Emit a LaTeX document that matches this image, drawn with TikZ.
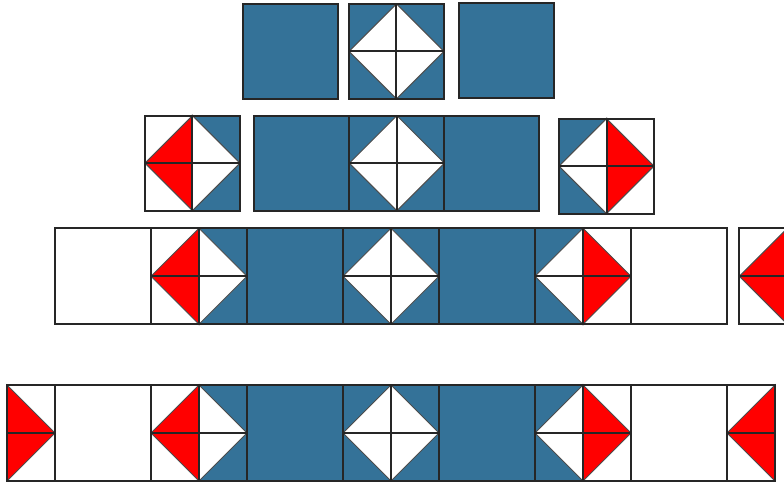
\documentclass[tikz,border=0pt]{standalone}
\usepackage{tikz}

\definecolor{quiltblue}{RGB}{52,114,152}
\definecolor{quiltred}{RGB}{255,0,0}
\tikzset{
 edge/.style={draw=black!85,line width=0.6pt},
 seam/.style={draw=black!70,line width=0.3pt}
}
% one unit square per block
\newcommand{\sqB}{\filldraw[fill=quiltblue,edge] (0,0) rectangle (1,1);}
\newcommand{\sqW}{\filldraw[fill=white,edge] (0,0) rectangle (1,1);}
\newcommand{\sqD}{%
 \fill[quiltblue] (0,0) rectangle (1,1);
 \filldraw[fill=white,seam] (0.5,0)--(1,0.5)--(0.5,1)--(0,0.5)--cycle;
 \draw[edge] (0,0.5)--(1,0.5) (0.5,0)--(0.5,1);
 \draw[edge] (0,0) rectangle (1,1);}
\newcommand{\sqL}{%
 \fill[white] (0,0) rectangle (0.5,1);
 \fill[quiltblue] (0.5,0) rectangle (1,1);
 \filldraw[fill=quiltred,seam] (0.5,0)--(0,0.5)--(0.5,1)--cycle;
 \filldraw[fill=white,seam] (0.5,0)--(1,0.5)--(0.5,1)--cycle;
 \draw[edge] (0,0.5)--(1,0.5) (0.5,0)--(0.5,1);
 \draw[edge] (0,0) rectangle (1,1);}
\newcommand{\sqR}{%
 \fill[quiltblue] (0,0) rectangle (0.5,1);
 \fill[white] (0.5,0) rectangle (1,1);
 \filldraw[fill=white,seam] (0.5,0)--(0,0.5)--(0.5,1)--cycle;
 \filldraw[fill=quiltred,seam] (0.5,0)--(1,0.5)--(0.5,1)--cycle;
 \draw[edge] (0,0.5)--(1,0.5) (0.5,0)--(0.5,1);
 \draw[edge] (0,0) rectangle (1,1);}

\begin{document}
\begin{tikzpicture}
 \useasboundingbox (0,0) rectangle (8.1667,5.0208);
 \clip (0,0) rectangle (8.1667,5.0208);
 % top row
 \begin{scope}[shift={(2.534,3.99)},scale=0.99] \sqB \end{scope}
 \begin{scope}[shift={(3.635,3.99)},scale=0.99] \sqD \end{scope}
 \begin{scope}[shift={(4.784,3.995)},scale=0.99] \sqB \end{scope}
 % second row
 \begin{scope}[shift={(1.510,2.826)},scale=0.99] \sqL \end{scope}
 \foreach \k [count=\i from 0] in {B,D,B}{
  \begin{scope}[shift={(2.649+0.99*\i,2.826)},scale=0.99] \csname sq\k\endcsname \end{scope}}
 \begin{scope}[shift={(5.823,2.795)},scale=0.99] \sqR \end{scope}
 % third row
 \foreach \k [count=\i from 0] in {W,L,B,D,B,R,W}{
  \begin{scope}[shift={(0.573+\i,1.643)}] \csname sq\k\endcsname \end{scope}}
 \begin{scope}[shift={(7.701,1.643)}] \sqL \end{scope}
 % bottom row
 \foreach \k [count=\i from 0] in {W,L,B,D,B,R,W}{
  \begin{scope}[shift={(0.573+\i,0.01)}] \csname sq\k\endcsname \end{scope}}
 \fill[white] (0.073,0.01) rectangle (0.573,1.01);
 \filldraw[fill=quiltred,seam] (0.073,1.01)--(0.573,0.51)--(0.073,0.01)--cycle;
 \draw[edge] (0.073,0.51)--(0.573,0.51);
 \draw[edge] (0.073,0.01) rectangle (0.573,1.01);
 \fill[white] (7.573,0.01) rectangle (8.073,1.01);
 \filldraw[fill=quiltred,seam] (8.073,1.01)--(7.573,0.51)--(8.073,0.01)--cycle;
 \draw[edge] (7.573,0.51)--(8.073,0.51);
 \draw[edge] (7.573,0.01) rectangle (8.073,1.01);
\end{tikzpicture}
\end{document}
